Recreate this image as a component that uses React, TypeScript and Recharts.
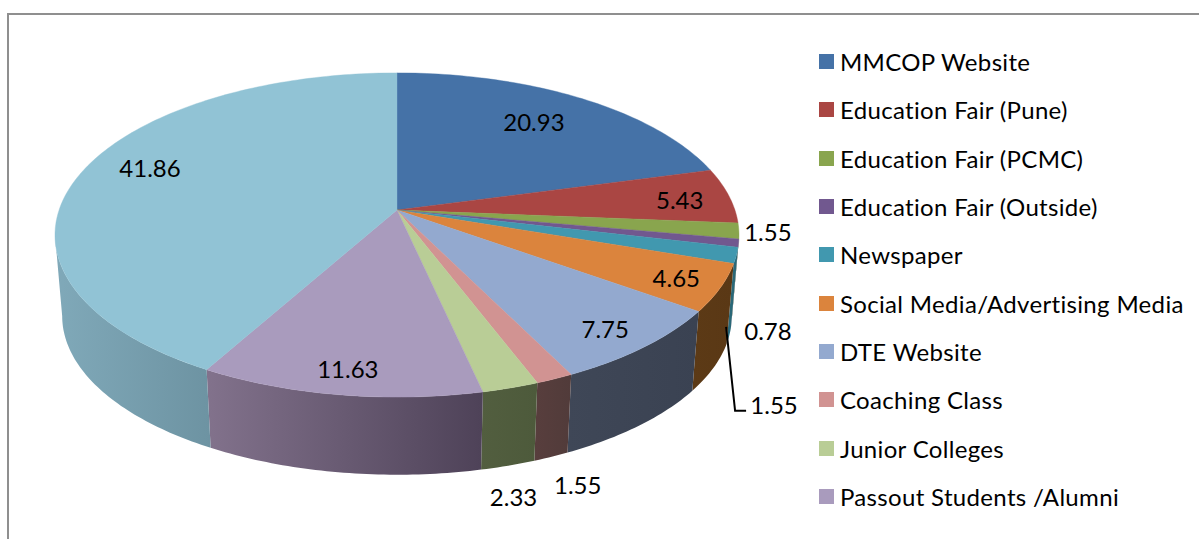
import React from 'react';
import { PieChart, Pie, Legend } from 'recharts';

const categories = [
  'MMCOP Website',
  'Education Fair (Pune)',
  'Education Fair (PCMC)',
  'Education Fair (Outside)',
  'Newspaper',
  'Social Media/Advertising Media',
  'DTE Website',
  'Coaching Class',
  'Junior Colleges',
  'Passout Students /Alumni',
  '', // this entry's legend row is cut off in the picture
];
const values = [20.93, 5.43, 1.55, 0.78, 1.55, 4.65, 7.75, 1.55, 2.33, 11.63, 41.86];
const topColors = ['#4572A7', '#AA4643', '#89A54E', '#71588F', '#4198AF', '#DB843D', '#93A9CF', '#D19392', '#B9CD96', '#A99BBD', '#91C3D5'];
// side wall shading, right end then left end
const wallRight = ['#2A4468', '#662A28', '#56672F', '#443556', '#2A6878', '#5A3815', '#3A4252', '#513B3A', '#4D5A3B', '#4E4258', '#6D93A2'];
const wallLeft = ['#2A4468', '#662A28', '#56672F', '#443556', '#2A6878', '#5C3A16', '#3F4757', '#583E3D', '#525E3F', '#82728C', '#80A9B9'];
// label offset from the middle of the slice's rim
const labelDx = [-44.5, -49, 29, 29.4, 37.8, -44, -39.6, 23.2, 3, 8.6, 66.5];
const labelDy = [24.3, 3.5, 1, 87.8, 149.4, -10, -17.8, 106, 109, -26.7, -2.3];
const LEADER_INDEX = 4;

const tableData = categories.map((name, i) => ({
  name,
  value: values[i],
  fill: topColors[i],
  wallRight: wallRight[i],
  wallLeft: wallLeft[i],
  sliceIndex: i,
}));

const FONT = 'Lato, sans-serif';
const FONT_SIZE = 24;
const RAD = Math.PI / 180;

// tilted disc: the hub sits above the ellipse centre because of the perspective
const RY_RATIO = 0.474;
const RIM_DROP = 25;
const BOTTOM_SCALE = 0.979;
const BOTTOM_DROP = 106;
const SKEW_DEG = 9.2;

// clockwise angle from 12 o'clock -> ellipse parameter
const toRimParam = (a: number) => a - SKEW_DEG * Math.sin(a * RAD);

const rimPoint = (cx: number, cy: number, r: number, t: number, bottom = false) => {
  const s = bottom ? BOTTOM_SCALE : 1;
  const drop = bottom ? BOTTOM_DROP : RIM_DROP;
  return {
    x: cx + r * s * Math.sin(t * RAD),
    y: cy + drop - r * s * RY_RATIO * Math.cos(t * RAD),
  };
};

const sampleRim = (cx: number, cy: number, r: number, t0: number, t1: number, bottom = false) => {
  const steps = Math.max(2, Math.ceil(Math.abs(t1 - t0)));
  const pts: string[] = [];
  for (let k = 0; k <= steps; k++) {
    const p = rimPoint(cx, cy, r, t0 + ((t1 - t0) * k) / steps, bottom);
    pts.push(`${p.x.toFixed(2)} ${p.y.toFixed(2)}`);
  }
  return pts;
};

const Slice3D = (props: any) => {
  const { cx, cy, outerRadius, startAngle, endAngle, fill, payload } = props;
  const row = payload || props;
  const t0 = toRimParam(90 - startAngle);
  const t1 = toRimParam(90 - endAngle);
  const top = `M ${cx} ${cy} L ${sampleRim(cx, cy, outerRadius, t0, t1).join(' L ')} Z`;

  // only the front half of the rim shows a wall
  const w0 = Math.max(t0, 90);
  const w1 = Math.min(t1, 270);
  const hasWall = w1 > w0;
  const gradId = `wall-${row.sliceIndex}`;
  const wall = hasWall
    ? `M ${sampleRim(cx, cy, outerRadius, w0, w1).join(' L ')} L ${sampleRim(cx, cy, outerRadius, w1, w0, true).join(' L ')} Z`
    : '';

  return (
    <g>
      {hasWall && (
        <>
          <defs>
            <linearGradient id={gradId} x1="0" y1="0" x2="1" y2="0">
              <stop offset="0%" stopColor={row.wallLeft} />
              <stop offset="100%" stopColor={row.wallRight} />
            </linearGradient>
          </defs>
          <path d={wall} fill={`url(#${gradId})`} stroke="none" />
        </>
      )}
      <path d={top} fill={fill} stroke={fill} strokeWidth={0.4} />
    </g>
  );
};

const renderLabel = (props: any) => {
  const { cx, cy, outerRadius, midAngle, value, index } = props;
  const rim = rimPoint(cx, cy, outerRadius, toRimParam(90 - midAngle));
  const x = rim.x + labelDx[index];
  const y = rim.y + labelDy[index];
  return (
    <g key={`label-${index}`}>
      {index === LEADER_INDEX && (
        <polyline
          points={`${x - 48},${y - 78} ${x - 39},${y + 6} ${x - 28},${y + 6}`}
          fill="none"
          stroke="#000"
          strokeWidth={2}
        />
      )}
      <text x={x} y={y} textAnchor="middle" dominantBaseline="central" fontFamily={FONT} fontSize={FONT_SIZE} fill="#000">
        {value.toFixed(2)}
      </text>
    </g>
  );
};

const renderLegend = (props: any) => {
  // keep the slice order, the legend sorts its items otherwise
  const items = props.payload
    .filter((item: any) => item.value)
    .sort((a: any, b: any) => categories.indexOf(a.value) - categories.indexOf(b.value));
  return (
    <div style={{ fontFamily: FONT, fontSize: FONT_SIZE, letterSpacing: 0.33, color: '#000' }}>
      {items.map((item: any) => (
        <div key={item.value} style={{ display: 'flex', alignItems: 'center', height: 48.3, whiteSpace: 'nowrap' }}>
          <span style={{ width: 15, height: 15, marginRight: 6, background: item.color, flex: 'none' }} />
          {item.value}
        </div>
      ))}
    </div>
  );
};

export default function App() {
  return (
    <div style={{ position: 'absolute', left: 0, top: 0, width: 1199, height: 539, overflow: 'hidden', background: '#fff' }}>
      <div style={{ position: 'absolute', left: 7, top: 13, right: 0, bottom: -4, borderTop: '2px solid #8f8f8f', borderLeft: '2px solid #8f8f8f' }} />
      <PieChart width={1199} height={539} margin={{ top: 0, right: 0, bottom: 0, left: 0 }}>
        <Pie
          data={tableData}
          dataKey="value"
          nameKey="name"
          cx={397}
          cy={210}
          innerRadius={0}
          outerRadius={342}
          startAngle={90}
          endAngle={-270}
          stroke="none"
          shape={Slice3D}
          label={renderLabel}
          labelLine={false}
          isAnimationActive={false}
        />
        <Legend
          layout="vertical"
          align="right"
          verticalAlign="top"
          width={380}
          content={renderLegend}
          wrapperStyle={{ left: 819, top: 37.5, right: 'auto' }}
        />
      </PieChart>
    </div>
  );
}
